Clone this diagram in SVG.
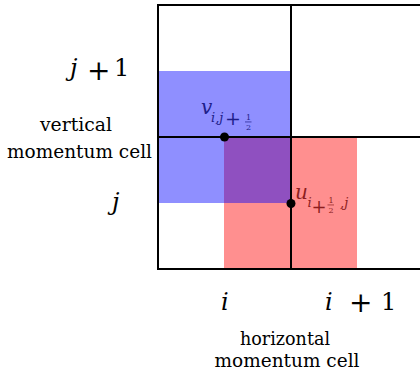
<svg xmlns="http://www.w3.org/2000/svg" width="420" height="374" viewBox="0 0 420 374">
<style>
text{font-family:"DejaVu Serif","Liberation Serif",serif}
.m{font-style:italic}
.n{font-style:normal}
.grid{stroke:#000;stroke-width:2;fill:none}
.dot{fill:#000}
</style>
<rect width="420" height="374" fill="#fff"/>
<g id="horizontal-cell">
<rect x="224" y="137" width="133" height="132" fill="#ff0000" fill-opacity="0.44"/>
</g>
<g id="vertical-cell">
<rect x="158" y="71" width="133" height="132" fill="#0000ff" fill-opacity="0.44"/>
</g>
<g id="grid" class="grid">
<path d="M158 5H421M158 137H421M158 269H421M158 4V270M291 4V270"/>
</g>
<g id="v-point">
<circle class="dot" cx="224.5" cy="137" r="4.5"/>
<g fill="#1e1e8a">
<text class="m" x="201" y="114" font-size="20">v<tspan x="211" y="122" font-size="13">i,j</tspan><tspan class="n" x="225" y="125" font-size="19">+</tspan><tspan class="n" x="246" y="119.5" font-size="8">1</tspan><tspan class="n" x="246" y="129.5" font-size="8">2</tspan></text>
<rect x="245" y="121.6" width="6.5" height="0.7"/>
</g>
</g>
<g id="u-point">
<circle class="dot" cx="291" cy="203.5" r="4.5"/>
<g fill="#8c1e1e">
<text class="m" x="295" y="199" font-size="20">u<tspan x="307.5" y="207" font-size="13">i</tspan><tspan class="n" x="311.5" y="212.5" font-size="18">+</tspan><tspan class="n" x="328.5" y="202.5" font-size="8">1</tspan><tspan class="n" x="328.5" y="212.5" font-size="8">2</tspan><tspan x="340" y="207" font-size="13">,j</tspan></text>
<rect x="327.5" y="204.6" width="6.5" height="0.7"/>
</g>
</g>
<g id="labels">
<text class="m" x="70" y="76" font-size="24">j<tspan class="n" x="87" y="80" font-size="28">+</tspan><tspan class="n" x="114" y="76">1</tspan></text>
<text class="m" x="112" y="210" font-size="24">j</text>
<text class="m" x="221" y="310" font-size="24">i</text>
<text class="m" x="325" y="310" font-size="24">i<tspan class="n" x="349" y="312" font-size="28">+</tspan><tspan class="n" x="381" y="310">1</tspan></text>
<text x="76" y="131" font-size="19" text-anchor="middle" textLength="72" lengthAdjust="spacingAndGlyphs">vertical</text>
<text x="79.5" y="158" font-size="19" text-anchor="middle" textLength="145" lengthAdjust="spacingAndGlyphs">momentum cell</text>
<text x="285" y="345" font-size="19" text-anchor="middle" textLength="90" lengthAdjust="spacingAndGlyphs">horizontal</text>
<text x="287" y="367" font-size="19" text-anchor="middle" textLength="145" lengthAdjust="spacingAndGlyphs">momentum cell</text>
</g>
</svg>
